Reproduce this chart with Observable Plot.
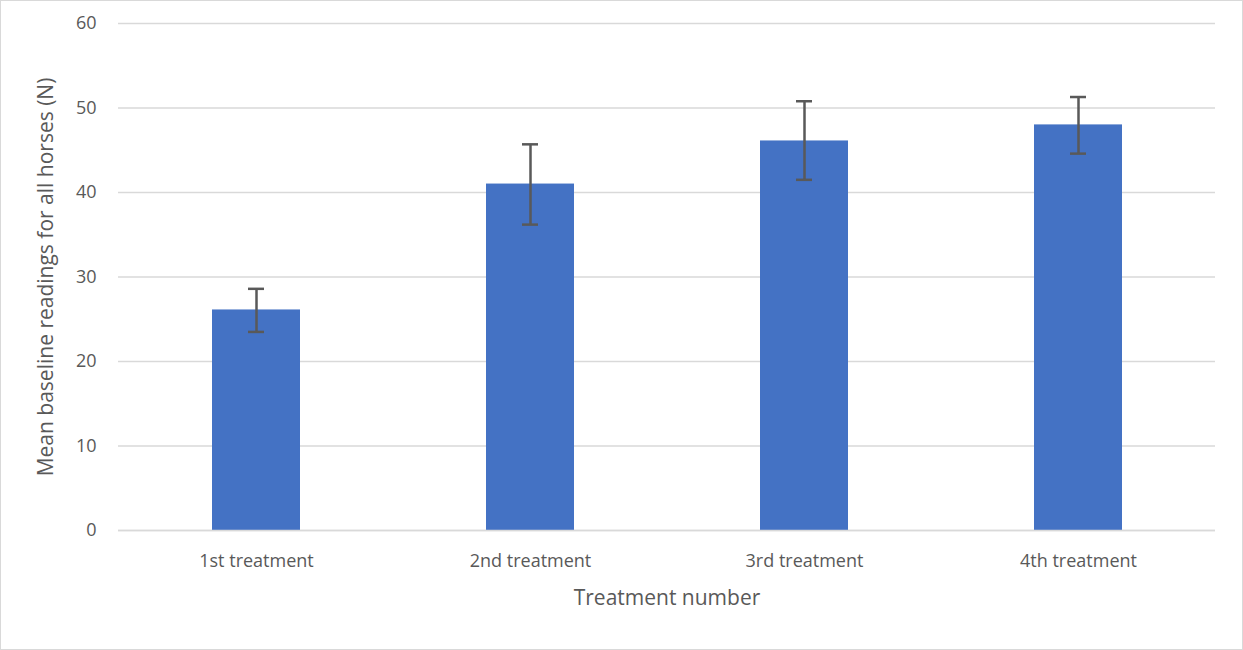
<!DOCTYPE html>
<html><head><meta charset="utf-8">
<script src="https://cdn.jsdelivr.net/npm/d3@7"></script>
<script src="https://cdn.jsdelivr.net/npm/@observablehq/plot@0.6"></script>
<style>body{margin:0;background:#fff;font-family:"Open Sans",sans-serif}
#c{position:relative;width:1241px;height:648px;border:1px solid #d9d9d9;}</style>
</head><body><div id="c"></div>
<script>
const categories = ["1st treatment","2nd treatment","3rd treatment","4th treatment"];
const means = [26.1, 41.0, 46.1, 48.0];
const errLow = [23.5, 36.2, 41.5, 44.6];
const errHigh = [28.6, 45.7, 50.8, 51.3];
const yTicks = [0,10,20,30,40,50,60];
const data = categories.map((c,i)=>({c, m:means[i], lo:errLow[i], hi:errHigh[i]}));
const chart = Plot.plot({
  width:1241, height:648,
  marginLeft:117, marginRight:27, marginTop:22, marginBottom:119,
  style:{fontFamily:"Open Sans", fontSize:"18px", color:"#595959", background:"transparent", overflow:"visible"},
  x:{domain:categories, paddingInner:0.68, paddingOuter:0.34, label:null},
  y:{domain:[0,60], ticks:yTicks, label:null},
  marks:[
    Plot.gridY(yTicks, {stroke:"#d9d9d9", strokeOpacity:1, strokeWidth:1.5}),
    Plot.barY(data, {x:"c", y:"m", fill:"#4472c4"}),
    Plot.ruleY([0], {stroke:"#d9d9d9", strokeWidth:1.5}),
    Plot.ruleX(data, {x:"c", y1:"lo", y2:"hi", stroke:"#595959", strokeWidth:2.5}),
    Plot.tickY(data, {x:"c", y:"lo", stroke:"#595959", strokeWidth:2.5, inset:36}),
    Plot.tickY(data, {x:"c", y:"hi", stroke:"#595959", strokeWidth:2.5, inset:36}),
    Plot.axisX({tickSize:0, tickPadding:24, fontSize:18}),
    Plot.axisY(yTicks, {tickSize:0, tickPadding:22, fontSize:18}),
    Plot.text(["Treatment number"], {frameAnchor:"bottom", dy:74, fontSize:21, fill:"#595959"}),
    Plot.text(["Mean baseline readings for all horses (N)"], {frameAnchor:"left", dx:-72, rotate:-90, textAnchor:"middle", fontSize:21, fill:"#595959"})
  ]
});
document.getElementById("c").appendChild(chart);
</script></body></html>
